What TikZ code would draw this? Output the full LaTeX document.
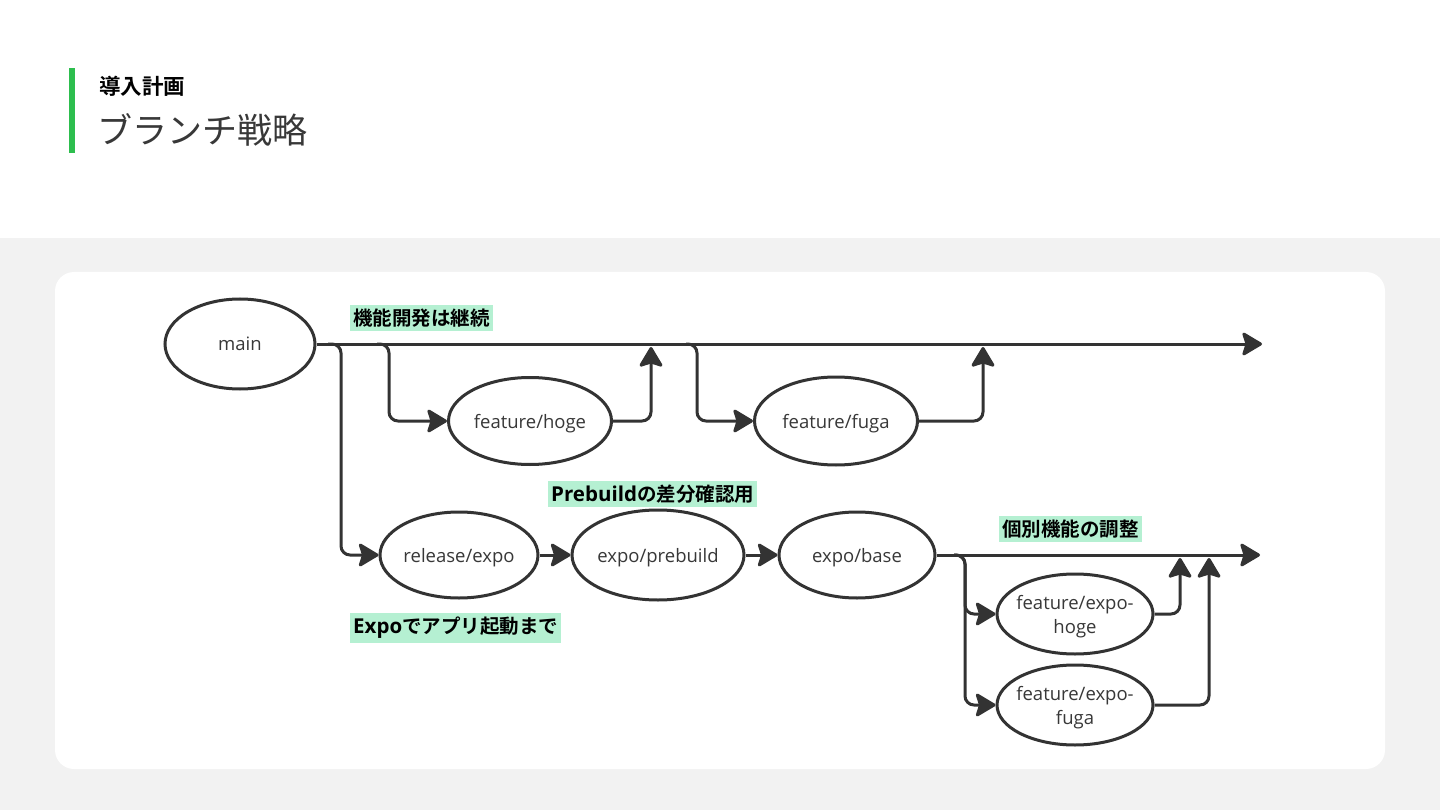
\documentclass[tikz,border=0pt]{standalone}
\usepackage{fontspec}
\setmainfont{Open Sans}
\newfontfamily\cjk{Noto Sans CJK JP}
\newfontfamily\cjkb{Noto Sans CJK JP}[BoldFont=* Bold]
\newfontfamily\osb{Open Sans}
\usetikzlibrary{shapes.geometric,arrows.meta}
\pgfdeclarelayer{bglayer}
\pgfdeclarelayer{connlayer}
\pgfsetlayers{bglayer,connlayer,main}
\definecolor{linec}{HTML}{333333}
\definecolor{txtc}{HTML}{383838}
\definecolor{mint}{HTML}{B5F0D2}
\definecolor{bggray}{HTML}{F2F2F2}
\definecolor{bargreen}{HTML}{2DBE4E}
\tikzset{
  branch/.style={ellipse, draw=linec, line width=3pt, fill=white, inner sep=0pt, text=txtc, font=\fontsize{18.5}{24}\selectfont, align=center, text depth=0pt},
  twoline/.style={inner xsep=-5pt},
  conn/.style={draw=linec, line width=3pt, rounded corners=9pt, -{Stealth[length=22pt,width=26pt,inset=4pt,round]}},
  tag/.style={fill=mint, inner xsep=3pt, inner ysep=4pt, text=black, font=\fontsize{19.5}{23}\selectfont\bfseries},
}
\begin{document}
\begin{tikzpicture}[x=1pt,y=-1pt]
\useasboundingbox (0,0) rectangle (1440,810);
\begin{pgfonlayer}{bglayer}
\fill[white] (0,0) rectangle (1440,810);
\fill[bggray] (0,238) rectangle (1440,810);
\fill[white, rounded corners=19pt] (55,272) rectangle (1385,769);
\end{pgfonlayer}
% header
\fill[bargreen] (69,68) rectangle (75,153);
\node[anchor=west, inner sep=0pt, text=black] (h1) at (99,86) {\cjkb\fontsize{21.5}{24}\selectfont\bfseries 導入計画};
\node[anchor=west, inner sep=0pt, text=txtc] (h2) at (97,130) {\cjk\fontsize{35}{40}\selectfont ブランチ戦略};

% nodes
\node[branch, minimum width=150pt, minimum height=90pt] (main) at (240,344) {main};
\node[branch, minimum width=163pt, minimum height=87pt] (fh) at (530,421) {feature/hoge};
\node[branch, minimum width=163pt, minimum height=88pt] (ff) at (836,421) {feature/fuga};
\node[branch, minimum width=158pt, minimum height=86pt] (re) at (459,555) {release/expo};
\node[branch, minimum width=172pt, minimum height=90pt] (ep) at (658,555) {expo/prebuild};
\node[branch, minimum width=156pt, minimum height=86pt] (eb) at (857,555) {expo/base};
\node[branch, twoline, minimum width=156pt, minimum height=80pt] (eh) at (1075,614) {feature/expo-\\hoge};
\node[branch, twoline, minimum width=156pt, minimum height=80pt] (ef) at (1075,705) {feature/expo-\\fuga};

% coordinates on the trunks
\coordinate (mainEnd) at (1262,344);
\coordinate (lowEnd) at (1260,555);
\coordinate (b0) at (328,344);
\coordinate (b1) at (377,344);
\coordinate (b2) at (686,344);
\coordinate (m1) at (651,347);
\coordinate (m2) at (983,347);
\coordinate (b3) at (954,555);
\coordinate (u1) at (1180,558);
\coordinate (u2) at (1209,558);

\begin{pgfonlayer}{connlayer}
\draw[conn] (main.east) -- (mainEnd);
\draw[conn] (b1) -- ++(12,0) |- (fh.west);
\draw[conn] (fh.east) -| (m1);
\draw[conn] (b2) -- ++(11,0) |- (ff.west);
\draw[conn] (ff.east) -| (m2);
\draw[conn] (b0) -- ++(13,0) |- (re.west);
\draw[conn] (re.east) -- (ep.west);
\draw[conn] (ep.east) -- (eb.west);
\draw[conn] (eb.east) -- (lowEnd);
\draw[conn] (b3) -- ++(11,0) |- (eh.west);
\draw[conn] (b3) -- ++(11,0) |- (ef.west);
\draw[conn] (eh.east) -| (u1);
\draw[conn] (ef.east) -| (u2);
\end{pgfonlayer}

% labels
\node[tag, anchor=west] (t1) at (350,318) {\cjkb\bfseries 機能開発は継続};
\node[tag, anchor=west] (t2) at (548,494) {{\osb\fontsize{20.5}{23}\selectfont\bfseries Prebuild}{\cjkb\bfseries の差分確認用}};
\node[tag, anchor=west] (t3) at (350,628) {{\osb\fontsize{20.5}{23}\selectfont\bfseries Expo}{\cjkb\bfseries でアプリ起動まで}};
\node[tag, anchor=west] (t4) at (999,529) {\cjkb\bfseries 個別機能の調整};
\end{tikzpicture}
\end{document}
